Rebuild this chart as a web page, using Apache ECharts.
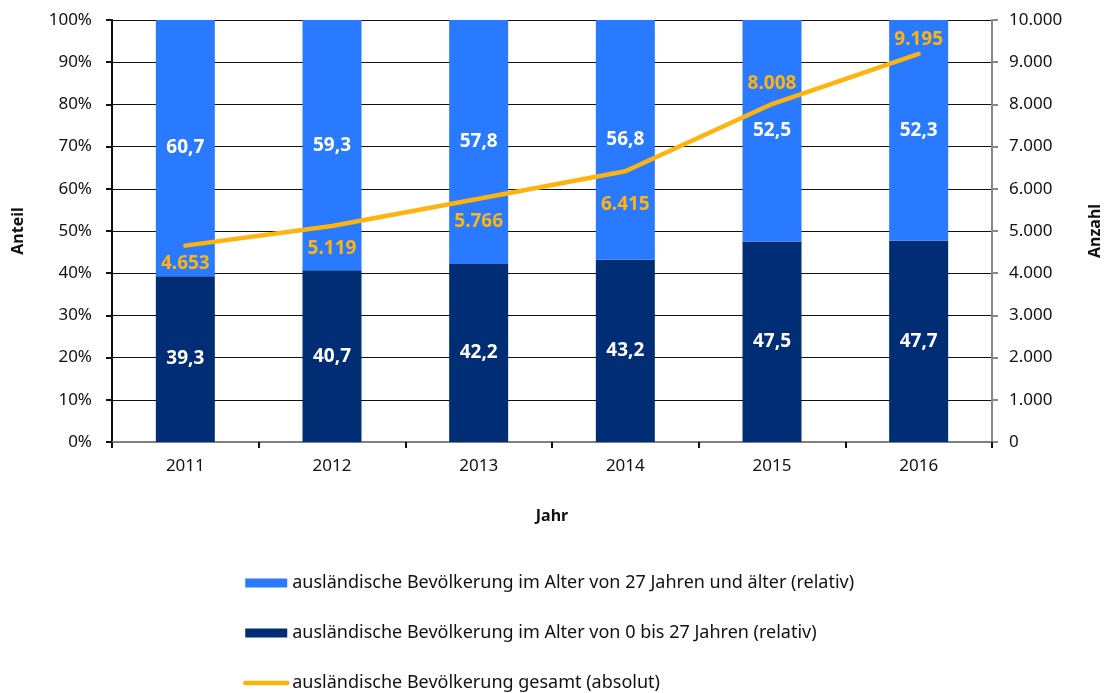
<!DOCTYPE html>
<html lang="de">

<head>
    <meta charset="UTF-8">
    <title>Ausländische Bevölkerung</title>
    <script src="https://cdn.jsdelivr.net/npm/echarts@6/dist/echarts.min.js"></script>
    <style>
        html, body {
            margin: 0;
            padding: 0;
            background: #fff;
        }

        #chart {
            width: 1111px;
            height: 693px;
        }
    </style>
</head>

<body>
    <div id="chart"></div>

    <script>
        // Daten
        const jahre = ['2011', '2012', '2013', '2014', '2015', '2016'];
        const anteilJung = [39.3, 40.7, 42.2, 43.2, 47.5, 47.7];   // 0 bis 27 Jahre
        const anteilAlt = [60.7, 59.3, 57.8, 56.8, 52.5, 52.3];    // 27 Jahre und älter
        const gesamt = [4653, 5119, 5766, 6415, 8008, 9195];

        const nameAlt = 'ausländische Bevölkerung im Alter von 27 Jahren und älter (relativ)';
        const nameJung = 'ausländische Bevölkerung im Alter von 0 bis 27 Jahren (relativ)';
        const nameGesamt = 'ausländische Bevölkerung gesamt (absolut)';

        const FONT = '"Noto Sans", sans-serif';
        const ORANGE = '#FFB30F';
        const fmtZahl = v => String(v).replace(/\B(?=(\d{3})+(?!\d))/g, '.');
        const fmtKomma = v => v.toFixed(1).replace('.', ',');

        // Lage der Beschriftungen an der Linie
        const linienLabel = [
            { position: 'bottom', distance: 8 },
            { position: 'bottom', distance: 13 },
            { position: 'bottom', distance: 13 },
            { position: 'bottom', distance: 23 },
            { position: 'top', distance: 10 },
            { position: 'top', distance: 4 }
        ];

        const chart = echarts.init(document.getElementById('chart'));

        const balkenLabel = {
            show: true,
            position: 'inside',
            color: '#fff',
            fontWeight: 'bold',
            fontSize: 19,
            fontFamily: FONT,
            formatter: p => fmtKomma(p.value)
        };

        const achsenName = { fontWeight: 'bold', fontSize: 16, color: '#111' };

        chart.setOption({
            animation: false,
            textStyle: { fontFamily: FONT },
            grid: {
                left: 112,
                right: 117,
                top: 20,
                bottom: 251
            },
            legend: {
                orient: 'vertical',
                left: 243,
                top: 574,
                padding: 0,
                itemGap: 32,
                itemWidth: 42,
                itemHeight: 9,
                textStyle: { fontSize: 18, lineHeight: 18, color: '#111', fontFamily: FONT },
                data: [
                    { name: nameAlt, icon: 'rect' },
                    { name: nameJung, icon: 'rect' },
                    { name: nameGesamt, itemStyle: { opacity: 0 }, lineStyle: { width: 4.5, cap: 'round' } }
                ]
            },
            xAxis: {
                type: 'category',
                data: jahre,
                name: 'Jahr',
                nameLocation: 'middle',
                nameGap: 66,
                nameTextStyle: achsenName,
                axisLine: { lineStyle: { color: '#808080', width: 2 } },
                axisTick: { show: true, length: 6, lineStyle: { color: '#111', width: 2 } },
                axisLabel: { fontSize: 17, color: '#111', margin: 16 }
            },
            yAxis: [{
                type: 'value',
                min: 0,
                max: 100,
                interval: 10,
                name: 'Anteil',
                nameLocation: 'middle',
                nameGap: 86,
                nameTextStyle: achsenName,
                axisLine: { show: true, lineStyle: { color: '#111', width: 2 } },
                axisTick: { show: true, length: 6, lineStyle: { color: '#111', width: 2 } },
                axisLabel: { fontSize: 17, color: '#111', margin: 20, formatter: '{value}%' },
                splitLine: { lineStyle: { color: '#111', width: 1 } }
            }, {
                type: 'value',
                min: 0,
                max: 10000,
                interval: 1000,
                name: 'Anzahl',
                nameLocation: 'middle',
                nameRotate: 90,
                nameGap: 95,
                nameTextStyle: achsenName,
                axisLine: { show: true, lineStyle: { color: '#888', width: 2 } },
                axisTick: { show: true, length: 6, lineStyle: { color: '#888', width: 2 } },
                axisLabel: { fontSize: 17, color: '#111', margin: 17, formatter: v => fmtZahl(v) },
                splitLine: { show: false }
            }],
            series: [{
                name: nameJung,
                type: 'bar',
                stack: 'anteil',
                barWidth: 59,
                itemStyle: { color: '#002D73' },
                label: balkenLabel,
                data: anteilJung
            }, {
                name: nameAlt,
                type: 'bar',
                stack: 'anteil',
                barWidth: 59,
                itemStyle: { color: '#2A7AFF' },
                label: balkenLabel,
                data: anteilAlt
            }, {
                name: nameGesamt,
                type: 'line',
                yAxisIndex: 1,
                symbol: 'circle',
                symbolSize: 1,
                showSymbol: true,
                lineStyle: { color: ORANGE, width: 4.5, cap: 'round' },
                itemStyle: { color: ORANGE },
                z: 5,
                data: gesamt.map((v, i) => ({
                    value: v,
                    label: {
                        show: true,
                        position: linienLabel[i].position,
                        distance: linienLabel[i].distance,
                        color: ORANGE,
                        fontWeight: 'bold',
                        fontSize: 19,
                        formatter: p => fmtZahl(p.value)
                    }
                }))
            }]
        });
    </script>
</body>

</html>
